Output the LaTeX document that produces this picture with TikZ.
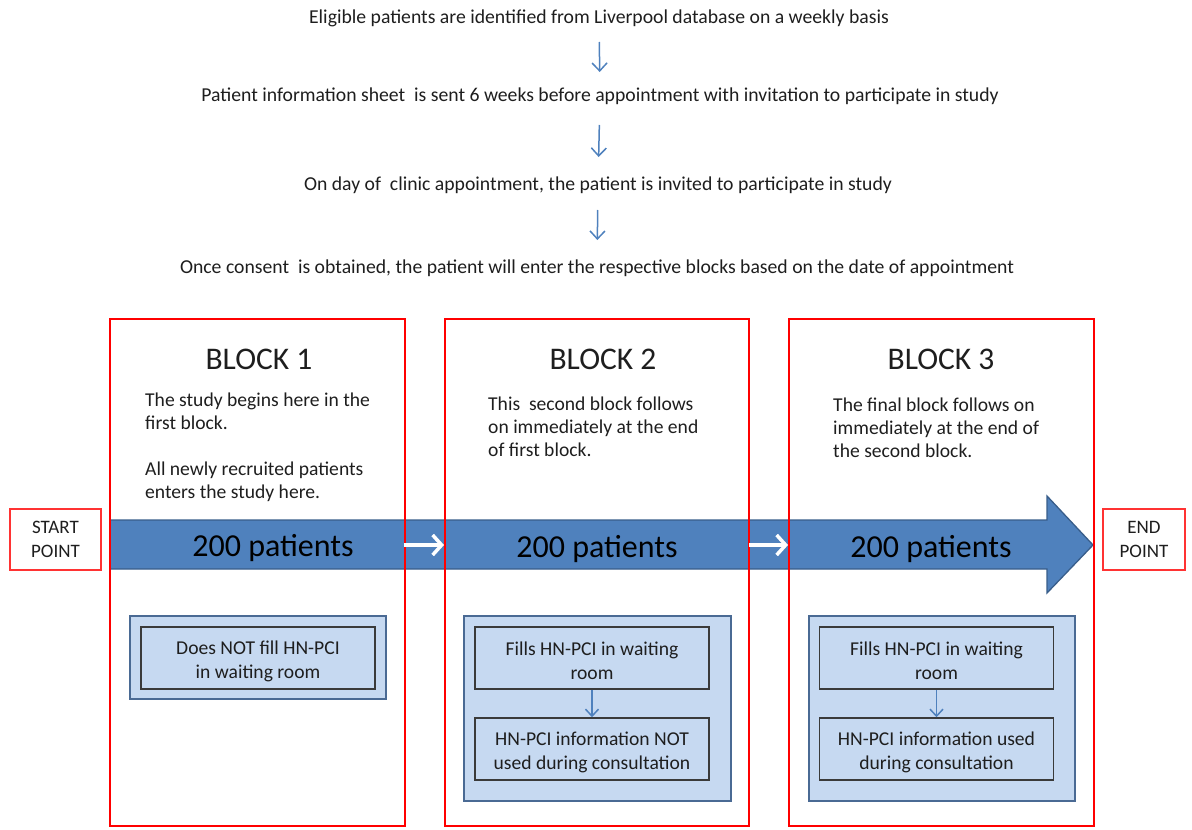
\documentclass[tikz,border=0pt]{standalone}
\usepackage{fontspec}
\setmainfont{Carlito}
\usetikzlibrary{arrows.meta}
\definecolor{flowblue}{HTML}{4F81BD}
\definecolor{flowedge}{HTML}{385D8A}
\definecolor{panelfill}{HTML}{C6D9F1}
\definecolor{paneledge}{HTML}{4A6A94}
\definecolor{boxedge}{HTML}{3A3A3A}
\definecolor{inkgray}{HTML}{1E1E1E}
\begin{document}
\begin{tikzpicture}[x=1pt,y=-1pt,
  toptext/.style={font=\fontsize{19.7}{22}\selectfont, text=inkgray, inner sep=0pt},
  downarrow/.style={draw=flowblue, line width=1.5pt, -{Straight Barb[length=8pt,width=15pt]}},
  blockframe/.style={draw=red, line width=2.4pt},
  blocktitle/.style={font=\fontsize{31.5}{34}\selectfont, text=inkgray, inner sep=0pt},
  blocktext/.style={font=\fontsize{19.6}{23}\selectfont, text=inkgray, align=left, inner sep=0pt, anchor=north west},
  count/.style={font=\fontsize{32}{34}\selectfont, text=black, inner sep=0pt},
  whitearrow/.style={draw=white, line width=3.5pt, -{Straight Barb[length=9pt,width=20pt]}},
  endpoint/.style={draw=red!80, line width=1.4pt, fill=white, align=center,
    font=\fontsize{19}{24}\selectfont, text=inkgray, inner sep=0pt},
  panel/.style={draw=paneledge, line width=2.4pt, fill=panelfill, inner sep=0pt},
  stepbox/.style={draw=boxedge, line width=1.5pt, fill=panelfill, align=center,
    minimum width=234pt, minimum height=62pt, inner sep=0pt,
    font=\fontsize{19.6}{24}\selectfont, text=inkgray},
  steplabel/.style={align=center, inner sep=0pt, font=\fontsize{19.6}{24}\selectfont, text=inkgray},
  innerarrow/.style={draw=flowblue, line width=1.5pt, -{Straight Barb[length=7pt,width=13pt]}}
]
\useasboundingbox (0,0) rectangle (1192,830);

% recruitment steps
\node[toptext] (t1) at (599,18) {Eligible patients are identified from Liverpool database on a weekly basis};
\node[toptext] (t2) at (600,96) {Patient information sheet\ \ is sent 6 weeks before appointment with invitation to participate in study};
\node[toptext] (t3) at (598,185) {On day of\ \ clinic appointment, the patient is invited to participate in study};
\node[toptext] (t4) at (597,268) {Once consent\ \ is obtained, the patient will enter the respective blocks based on the date of appointment};
\draw[downarrow, shorten <=24pt, shorten >=24pt] (t1.center) -- (t2.center);
\draw[downarrow, shorten <=29pt, shorten >=28pt] (t2.center) -- (t3.center);
\draw[downarrow, shorten <=25pt, shorten >=28pt] (t3.center) -- (t4.center);

% timeline arrow through the three blocks
\filldraw[fill=flowblue, draw=flowedge, line width=1.3pt]
  (110,520) -- (1047,520) -- (1047,496) -- (1093,545) -- (1047,593) -- (1047,569) -- (110,569) -- cycle;

% block frames
\node[blockframe, minimum width=295pt, minimum height=507pt, inner sep=0pt] (b1) at (257.5,572.5) {};
\node[blockframe, minimum width=304pt, minimum height=507pt, inner sep=0pt] (b2) at (597,572.5) {};
\node[blockframe, minimum width=305pt, minimum height=507pt, inner sep=0pt] (b3) at (941.5,572.5) {};

\node[blocktitle] (h1) at (259,359) {BLOCK 1};
\node[blocktitle] (h2) at (603,359) {BLOCK 2};
\node[blocktitle] (h3) at (941,359) {BLOCK 3};

\node[blocktext] (d1) at (145,393) {The study begins here in the\\first block.\\[23pt]All newly recruited patients\\enters the study here.};
\node[blocktext] (d2) at (488,397) {This\ \ second block follows\\on immediately at the end\\of first block.};
\node[blocktext] (d3) at (833,398) {The final block follows on\\immediately at the end of\\the second block.};

% patient counts and hand-over arrows
\node[count] (c1) at (273,548) {200 patients};
\node[count] (c2) at (597,549) {200 patients};
\node[count] (c3) at (931,549) {200 patients};
\coordinate (w1a) at (404,545);
\coordinate (w1b) at (444,545);
\coordinate (w2a) at (749,545);
\coordinate (w2b) at (788,545);
\draw[whitearrow] (w1a) -- (w1b);
\draw[whitearrow] (w2a) -- (w2b);

\node[endpoint, minimum width=91pt, minimum height=61pt] (start) at (55.5,539.5) {START\\POINT};
\node[endpoint, minimum width=82pt, minimum height=61pt] (end) at (1144,539.5) {END\\POINT};

% questionnaire handling per block
\node[panel, minimum width=256pt, minimum height=83pt] (p1) at (258,657.5) {};
\node[stepbox] (s1) at (258,658) {};
\node[steplabel] (l1) at (258,661) {Does NOT fill HN-PCI\\in waiting room};

\node[panel, minimum width=267pt, minimum height=185pt] (p2) at (597.5,708.5) {};
\node[stepbox] (s2a) at (592,658) {};
\node[steplabel] (l2a) at (592,661) {Fills HN-PCI in waiting\\room};
\node[stepbox] (s2b) at (592,749) {};
\node[steplabel] (l2b) at (592,752) {HN-PCI information NOT\\used during consultation};
\draw[innerarrow] (s2a) -- (s2b);

\node[panel, minimum width=266pt, minimum height=185pt] (p3) at (942,708.5) {};
\node[stepbox] (s3a) at (936.5,658) {};
\node[steplabel] (l3a) at (936.5,661) {Fills HN-PCI in waiting\\room};
\node[stepbox] (s3b) at (936.5,749) {};
\node[steplabel] (l3b) at (936.5,752) {HN-PCI information used\\during consultation};
\draw[innerarrow] (s3a) -- (s3b);
\end{tikzpicture}
\end{document}
